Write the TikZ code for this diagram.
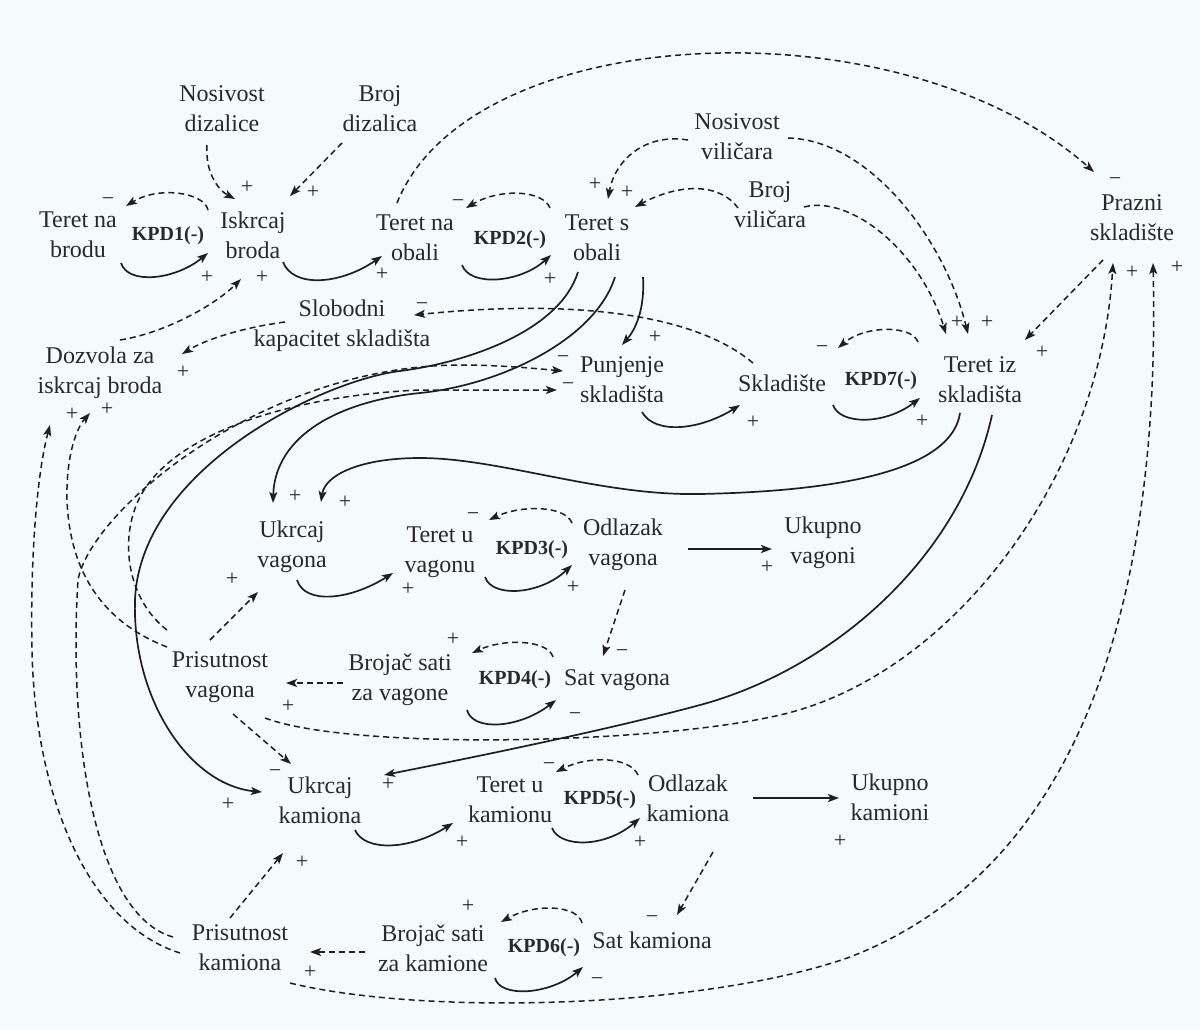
\documentclass[tikz,border=0pt]{standalone}
\usepackage{fontspec}
\setmainfont{Liberation Serif}
\usetikzlibrary{arrows.meta}
\definecolor{paper}{RGB}{245,250,252}
\definecolor{ink}{RGB}{30,30,35}
\definecolor{inktext}{RGB}{40,40,45}
\begin{document}
\begin{tikzpicture}[x=1pt,y=-1pt,
  var/.style={font=\fontsize{24}{30}\selectfont, text=inktext, align=center, inner sep=0pt},
  loopl/.style={font=\bfseries\fontsize{20}{24}\selectfont, text=inktext, inner sep=0pt},
  sgn/.style={font=\fontsize{22}{24}\selectfont, text=inktext, inner sep=0pt, anchor=base, yshift=-5.5pt},
  flow/.style={draw=ink, line width=1.7pt, -{Stealth[length=11pt,width=8pt,inset=2.5pt]}},
  info/.style={flow, line width=1.5pt, dash pattern=on 6pt off 4pt},
]
\fill[paper] (0,0) rectangle (1200,1029);
\useasboundingbox (0,0) rectangle (1200,1029);

% ---------- variables ----------
\node[var] (tnb) at (78,235) {Teret na\\brodu};
\node[loopl] (kpd1) at (168,236) {KPD1(-)};
\node[var] (isk) at (253,235) {Iskrcaj\\broda};
\node[var] (nosd) at (222,109) {Nosivost\\dizalice};
\node[var] (brd) at (380,109) {Broj\\dizalica};
\node[var] (tno) at (415,238) {Teret na\\obali};
\node[loopl] (kpd2) at (510,240) {KPD2(-)};
\node[var] (tso) at (597,238) {Teret s\\obali};
\node[var] (nosv) at (737,137) {Nosivost\\viličara};
\node[var] (brv) at (770,205) {Broj\\viličara};
\node[var] (praz) at (1132,218) {Prazni\\skladište};
\node[var] (slob) at (342,326) {Slobodni\\kapacitet skladišta};
\node[var] (doz) at (100,373) {Dozvola za\\iskrcaj broda};
\node[var] (pun) at (622,380) {Punjenje\\skladišta};
\node[var] (skl) at (782,383) {Skladište};
\node[loopl] (kpd7) at (881,381) {KPD7(-)};
\node[var] (tis) at (980,380) {Teret iz\\skladišta};
\node[var] (ukv) at (292,547) {Ukrcaj\\vagona};
\node[var] (tuv) at (440,552) {Teret u\\vagonu};
\node[loopl] (kpd3) at (532,550) {KPD3(-)};
\node[var] (odv) at (623,545) {Odlazak\\vagona};
\node[var] (ukpv) at (823,543) {Ukupno\\vagoni};
\node[var] (prv) at (220,677) {Prisutnost\\vagona};
\node[var] (bsv) at (400,680) {Brojač sati\\za vagone};
\node[loopl] (kpd4) at (515,680) {KPD4(-)};
\node[var] (satv) at (617,680) {Sat vagona};
\node[var] (ukk) at (320,800) {Ukrcaj\\kamiona};
\node[var] (tuk) at (510,800) {Teret u\\kamionu};
\node[loopl] (kpd5) at (600,800) {KPD5(-)};
\node[var] (odk) at (688,798) {Odlazak\\kamiona};
\node[var] (ukpk) at (890,797) {Ukupno\\kamioni};
\node[var] (prk) at (240,948) {Prisutnost\\kamiona};
\node[var] (bsk) at (433,948) {Brojač sati\\za kamione};
\node[loopl] (kpd6) at (544,948) {KPD6(-)};
\node[var] (satk) at (652,940) {Sat kamiona};

% ---------- ship unloading ----------
\draw[info] ([shift={(-15,36)}]nosd.center) .. controls (205,172) and (218,190) .. ([shift={(-18,-36)}]isk.center);
\draw[info] ([shift={(-38,34)}]brd.center) -- ([shift={(37,-39)}]isk.center);
\draw[info] ([shift={(-45,-25)}]isk.center) .. controls (204,192) and (158,186) .. ([shift={(48,-29)}]tnb.center);
\draw[flow] ([shift={(43,28)}]tnb.center) .. controls (128,285) and (175,280) .. ([shift={(-45,18)}]isk.center);
\draw[flow] ([shift={(30,27)}]isk.center) .. controls (293,288) and (340,285) .. ([shift={(-33,18)}]tno.center);
\draw[info] ([shift={(20,-33)}]doz.center) .. controls (165,333) and (215,305) .. ([shift={(-12,44)}]isk.center);
\draw[info] ([shift={(-57,-4)}]slob.center) .. controls (240,328) and (205,340) .. ([shift={(82,-19)}]doz.center);
\draw[info] ([shift={(-18,-35)}]tno.center) .. controls (470,20) and (900,0) .. ([shift={(-38,-46)}]praz.center);

% ---------- quay ----------
\draw[info] ([shift={(-47,-30)}]tso.center) .. controls (543,190) and (500,188) .. ([shift={(51,-30)}]tno.center);
\draw[flow] ([shift={(47,27)}]tno.center) .. controls (470,287) and (520,283) .. ([shift={(-46,17)}]tso.center);
\draw[info] ([shift={(-49,3)}]nosv.center) .. controls (645,133) and (615,160) .. ([shift={(11,-39)}]tso.center);
\draw[info] ([shift={(-32,3)}]brv.center) .. controls (720,183) and (680,183) .. ([shift={(38,-31)}]tso.center);
\draw[info] ([shift={(51,1)}]nosv.center) .. controls (870,140) and (945,240) .. ([shift={(-12,-46)}]tis.center);
\draw[info] ([shift={(34,2)}]brv.center) .. controls (850,195) and (920,250) .. ([shift={(-34,-46)}]tis.center);
\draw[info] ([shift={(-29,42)}]praz.center) -- ([shift={(45,-40)}]tis.center);

% ---------- warehouse ----------
\draw[info] ([shift={(-62,-38)}]tis.center) .. controls (912,325) and (865,325) .. ([shift={(56,-35)}]skl.center);
\draw[flow] ([shift={(51,22)}]skl.center) .. controls (840,425) and (885,425) .. ([shift={(-60,18)}]tis.center);
\draw[flow] ([shift={(20,32)}]pun.center) .. controls (655,435) and (700,430) .. ([shift={(-42,22)}]skl.center);
\draw[info] ([shift={(-29,-20)}]skl.center) .. controls (690,310) and (560,300) .. ([shift={(72,-11)}]slob.center);
\draw[flow] ([shift={(46,39)}]tso.center) .. controls (645,310) and (635,330) .. ([shift={(0,-35)}]pun.center);

% ---------- cargo to wagons and trucks ----------
\draw[flow] ([shift={(18,39)}]tso.center) .. controls (595,340) and (500,385) .. (420,393)
  .. controls (340,401) and (275,435) .. ([shift={(-19,-44)}]ukv.center);
\draw[flow] ([shift={(-19,34)}]tso.center) .. controls (560,330) and (470,362) .. (400,371)
  .. controls (320,381) and (140,470) .. (135,600)
  .. controls (132,700) and (190,785) .. ([shift={(-58,-8)}]ukk.center);
\draw[flow] ([shift={(-20,33)}]tis.center) .. controls (950,480) and (800,492) .. (700,494)
  .. controls (600,496) and (500,458) .. (420,458)
  .. controls (360,458) and (325,475) .. ([shift={(29,-45)}]ukv.center);
\draw[flow] ([shift={(12,35)}]tis.center) .. controls (960,560) and (830,670) .. (700,705)
  .. controls (600,732) and (450,762) .. ([shift={(64,-25)}]ukk.center);

% ---------- wagons ----------
\draw[flow] ([shift={(65,4)}]odv.center) -- ([shift={(-51,6)}]ukpv.center);
\draw[info] ([shift={(-51,-22)}]odv.center) .. controls (565,505) and (520,505) .. ([shift={(49,-32)}]tuv.center);
\draw[flow] ([shift={(45,25)}]tuv.center) .. controls (492,598) and (540,595) .. ([shift={(-51,20)}]odv.center);
\draw[flow] ([shift={(5,33)}]ukv.center) .. controls (305,605) and (350,600) .. ([shift={(-47,21)}]tuv.center);
\draw[info] ([shift={(2,45)}]odv.center) -- ([shift={(-14,-24)}]satv.center);
\draw[info] ([shift={(-64,-23)}]satv.center) .. controls (548,640) and (505,638) .. ([shift={(72,-27)}]bsv.center);
\draw[flow] ([shift={(67,30)}]bsv.center) .. controls (473,732) and (520,728) .. ([shift={(-61,20)}]satv.center);
\draw[info] ([shift={(-57,3)}]bsv.center) -- ([shift={(66,6)}]prv.center);
\draw[info] ([shift={(-10,-37)}]prv.center) -- ([shift={(-34,45)}]ukv.center);
\draw[info] ([shift={(13,37)}]prv.center) -- ([shift={(-29,-36)}]ukk.center);
\draw[info] ([shift={(45,41)}]prv.center) .. controls (350,750) and (650,745) .. (780,715)
  .. controls (950,676) and (1100,480) .. ([shift={(-19,45)}]praz.center);

% ---------- trucks ----------
\draw[info] ([shift={(50,35)}]prk.center) .. controls (420,1015) and (700,1010) .. (850,957)
  .. controls (1100,860) and (1160,560) .. ([shift={(21,45)}]praz.center);
\draw[info] ([shift={(-68,4)}]bsk.center) -- ([shift={(70,4)}]prk.center);
\draw[info] ([shift={(-10,-30)}]prk.center) -- ([shift={(-37,53)}]ukk.center);
\draw[flow] ([shift={(35,30)}]ukk.center) .. controls (365,852) and (410,850) .. ([shift={(-57,23)}]tuk.center);
\draw[info] ([shift={(-50,-23)}]odk.center) .. controls (630,757) and (590,755) .. ([shift={(46,-28)}]tuk.center);
\draw[flow] ([shift={(42,28)}]tuk.center) .. controls (560,848) and (605,848) .. ([shift={(-48,20)}]odk.center);
\draw[flow] ([shift={(65,0)}]odk.center) -- ([shift={(-51,1)}]ukpk.center);
\draw[info] ([shift={(25,54)}]odk.center) -- ([shift={(25,-25)}]satk.center);
\draw[info] ([shift={(-70,-17)}]satk.center) .. controls (578,905) and (535,903) .. ([shift={(68,-26)}]bsk.center);
\draw[flow] ([shift={(62,30)}]bsk.center) .. controls (500,998) and (550,995) .. ([shift={(-69,27)}]satk.center);

% ---------- presence links on the left ----------
\draw[info] ([shift={(-60,5)}]prk.center) .. controls (90,925) and (35,800) .. (32,650)
  .. controls (30,550) and (38,470) .. ([shift={(-50,52)}]doz.center);
\draw[info] ([shift={(-53,-30)}]prv.center) .. controls (110,625) and (70,580) .. (67,500)
  .. controls (66,460) and (75,430) .. ([shift={(-10,40)}]doz.center);
\draw[info] ([shift={(-67,-11)}]prk.center) .. controls (95,915) and (68,740) .. (78,580)
  .. controls (90,515) and (240,385) .. (420,367)
  .. controls (470,362) and (530,368) .. ([shift={(-59,-9)}]pun.center);
\draw[info] ([shift={(-53,-47)}]prv.center) .. controls (128,600) and (118,540) .. (140,497)
  .. controls (175,430) and (300,395) .. (420,390) -- ([shift={(-65,10)}]pun.center);

% ---------- polarities ----------
\node[sgn] (s1) at (247,188) {+};
\node[sgn] (s2) at (313,193) {+};
\node[sgn] (s3) at (108,200) {−};
\node[sgn] (s4) at (207,278) {+};
\node[sgn] (s5) at (262,278) {+};
\node[sgn] (s6) at (382,275) {+};
\node[sgn] (s7) at (183,373) {+};
\node[sgn] (s8) at (1115,180) {−};
\node[sgn] (s9) at (458,202) {−};
\node[sgn] (s10) at (550,280) {+};
\node[sgn] (s11) at (595,185) {+};
\node[sgn] (s12) at (627,193) {+};
\node[sgn] (s13) at (957,323) {+};
\node[sgn] (s14) at (987,323) {+};
\node[sgn] (s15) at (1042,353) {+};
\node[sgn] (s16) at (822,348) {−};
\node[sgn] (s17) at (922,422) {+};
\node[sgn] (s18) at (753,423) {+};
\node[sgn] (s19) at (422,305) {−};
\node[sgn] (s20) at (655,338) {+};
\node[sgn] (s21) at (563,358) {−};
\node[sgn] (s22) at (568,385) {−};
\node[sgn] (s23) at (1132,273) {+};
\node[sgn] (s24) at (1177,268) {+};
\node[sgn] (s25) at (295,497) {+};
\node[sgn] (s26) at (345,503) {+};
\node[sgn] (s27) at (72,415) {+};
\node[sgn] (s28) at (107,410) {+};
\node[sgn] (s29) at (473,515) {−};
\node[sgn] (s30) at (573,588) {+};
\node[sgn] (s31) at (408,590) {+};
\node[sgn] (s32) at (767,568) {+};
\node[sgn] (s33) at (622,652) {−};
\node[sgn] (s34) at (453,640) {+};
\node[sgn] (s35) at (575,715) {−};
\node[sgn] (s36) at (288,707) {+};
\node[sgn] (s37) at (232,580) {+};
\node[sgn] (s38) at (275,772) {−};
\node[sgn] (s39) at (228,805) {+};
\node[sgn] (s40) at (388,785) {+};
\node[sgn] (s41) at (462,843) {+};
\node[sgn] (s42) at (302,863) {+};
\node[sgn] (s43) at (310,973) {+};
\node[sgn] (s44) at (549,765) {−};
\node[sgn] (s45) at (640,843) {+};
\node[sgn] (s46) at (840,842) {+};
\node[sgn] (s47) at (652,918) {−};
\node[sgn] (s48) at (468,907) {+};
\node[sgn] (s49) at (597,980) {−};
\end{tikzpicture}
\end{document}
